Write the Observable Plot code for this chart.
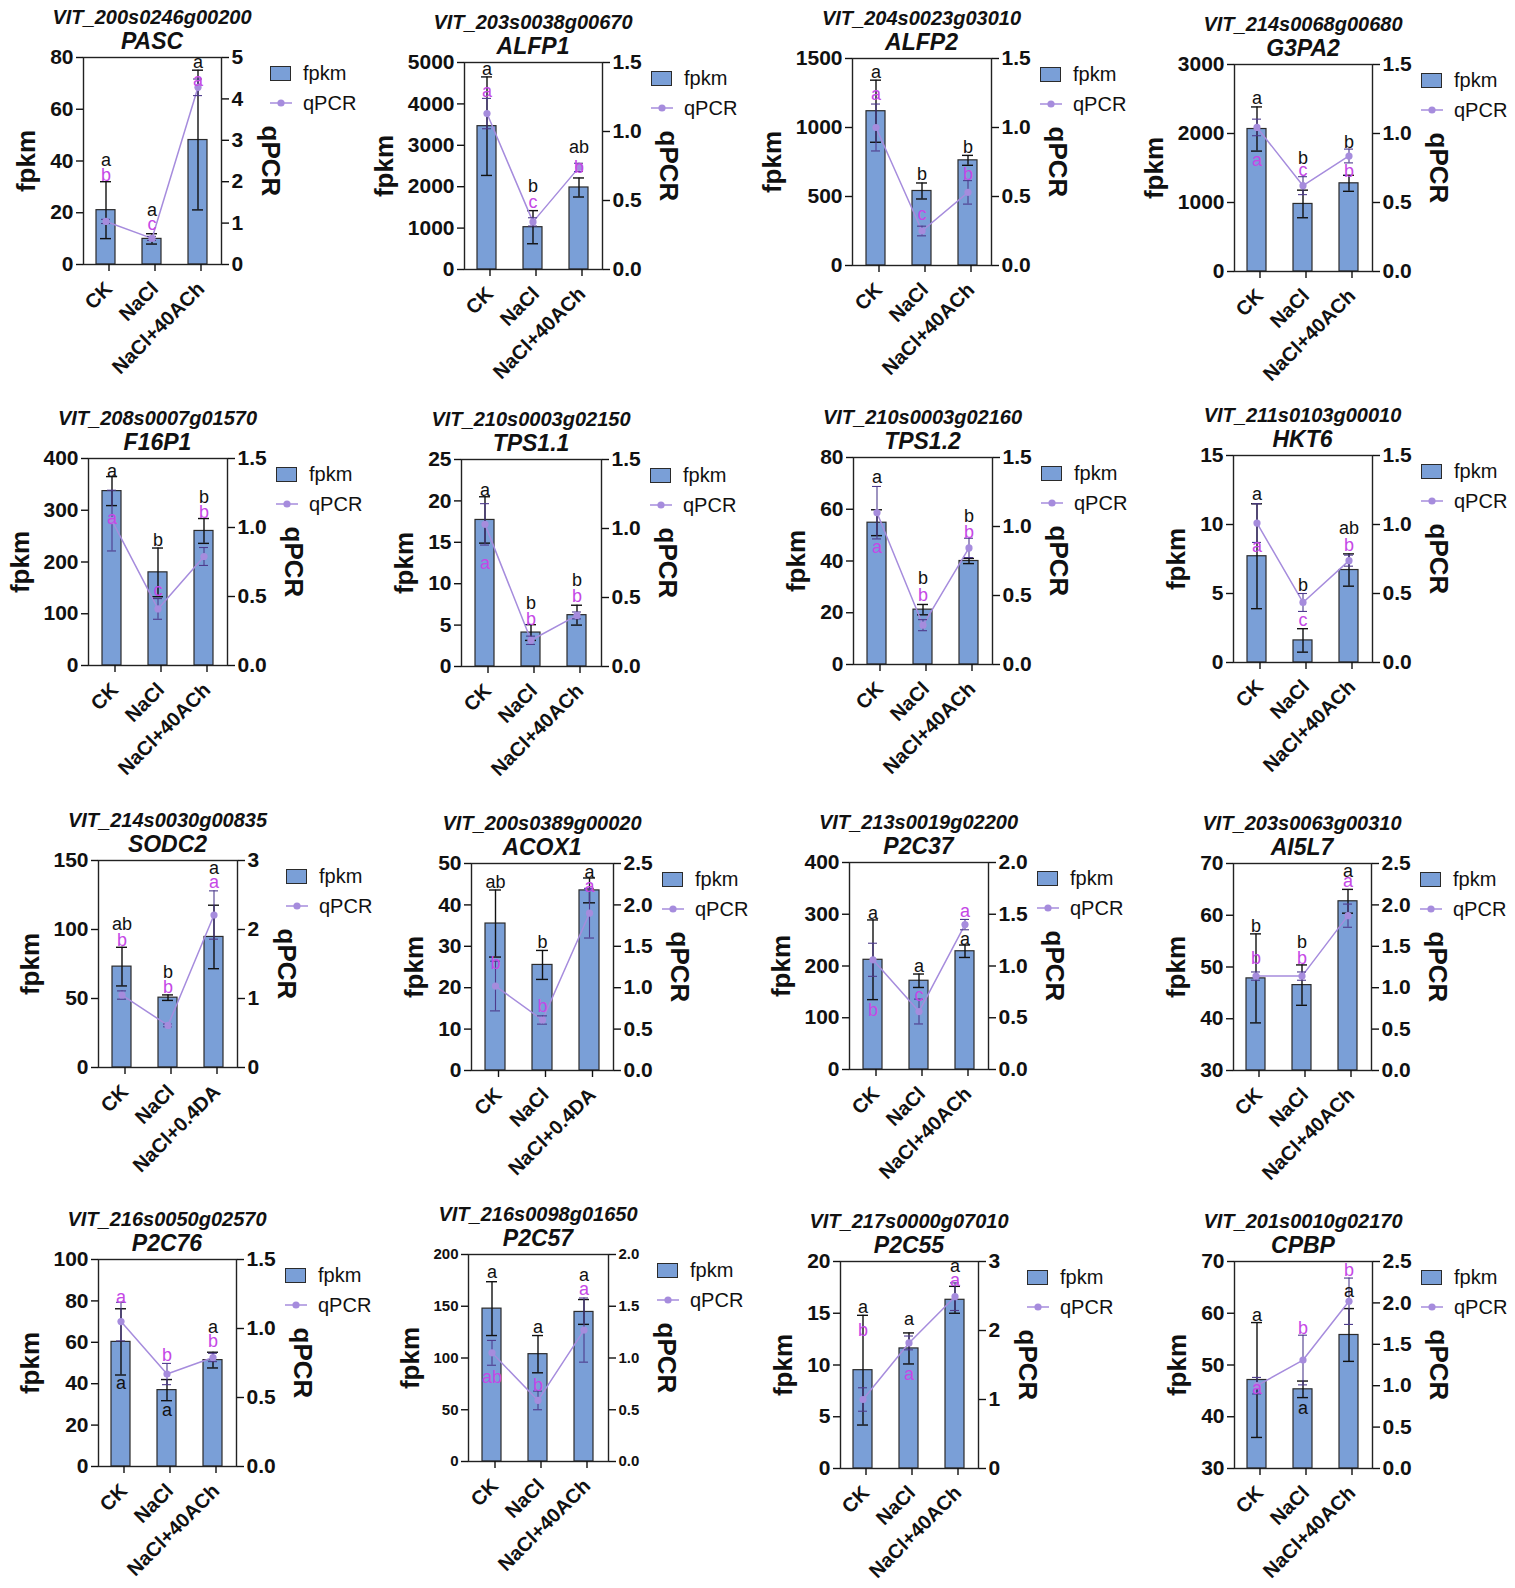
<!DOCTYPE html>
<html><head><meta charset="utf-8">
<script src="https://cdn.jsdelivr.net/npm/d3@7"></script>
<script src="https://cdn.jsdelivr.net/npm/@observablehq/plot@0.6"></script>
<style>
body{margin:0;background:#fff;overflow:hidden;}
#page{position:relative;width:1515px;height:1588px;font-family:"Liberation Sans",Arial,Helvetica,sans-serif;color:#111;}
.t1,.t2{position:absolute;font-weight:bold;font-style:italic;white-space:nowrap;transform:translate(-50%,-50%);line-height:1;}
.t1{font-size:20px}.t2{font-size:23px}
.lg{position:absolute;font-size:20px;line-height:1;white-space:nowrap;}
</style></head><body><div id="page"></div><script>
// ---------- data ----------
const genes = ["VIT_200s0246g00200","VIT_203s0038g00670","VIT_204s0023g03010","VIT_214s0068g00680",
  "VIT_208s0007g01570","VIT_210s0003g02150","VIT_210s0003g02160","VIT_211s0103g00010",
  "VIT_214s0030g00835","VIT_200s0389g00020","VIT_213s0019g02200","VIT_203s0063g00310",
  "VIT_216s0050g02570","VIT_216s0098g01650","VIT_217s0000g07010","VIT_201s0010g02170"];
const names = ["PASC","ALFP1","ALFP2","G3PA2","F16P1","TPS1.1","TPS1.2","HKT6",
  "SODC2","ACOX1","P2C37","AI5L7","P2C76","P2C57","P2C55","CPBP"];
const treatACh = ["CK","NaCl","NaCl+40ACh"];
const treatDA = ["CK","NaCl","NaCl+0.4DA"];
const treatUsed = ["ACh","ACh","ACh","ACh","ACh","ACh","ACh","ACh","DA","DA","ACh","ACh","ACh","ACh","ACh","ACh"];

const fpkmMean = [[21.0,9.9,48.1],[3462,1022,1981],[1118,540,762],[2065,979,1278],
  [337,180,260],[17.7,4.1,6.2],[54.8,21.2,40.0],[7.7,1.6,6.7],
  [73.1,50.6,94.6],[35.5,25.5,43.5],[212,171.5,228.5],[47.8,46.5,62.7],
  [60.2,36.9,51.4],[147.7,103.7,144.5],[9.5,11.6,16.3],[47.1,45.3,55.8]];
const fpkmErr = [[11,2,27],[1190,400,230],[225,58,36],[320,200,116],
  [28,47,24],[2.8,0.95,1.2],[5,2,1],[3.8,0.85,1.17],
  [14,2,23],[8.1,3.5,3],[77,13,12],[8.6,3.9,2.3],
  [16,5.1,3.8],[26,18,12],[5.3,1.5,1.3],[11.1,1.6,5.1]];
const qpcrMean = [[1.04,0.63,4.28],[1.13,0.345,0.74],[1.0,0.25,0.53],[1.044,0.622,0.837],
  [1.05,0.41,0.79],[1.03,0.19,0.37],[1.10,0.285,0.845],[1.01,0.435,0.738],
  [1.05,0.61,2.21],[1.02,0.61,1.9],[1.06,0.56,1.40],[1.14,1.14,1.87],
  [1.05,0.67,0.79],[1.05,0.59,1.27],[1.0,1.82,2.49],[1.0,1.31,2.02]];
const qpcrErr = [[0.05,0.05,0.2],[0.11,0.03,0.03],[0.17,0.035,0.085],[0.06,0.065,0.05],
  [0.22,0.075,0.065],[0.15,0.03,0.025],[0.19,0.04,0.07],[0.14,0.065,0.04],
  [0.06,0.02,0.35],[0.3,0.05,0.3],[0.16,0.12,0.05],[0.05,0.05,0.14],
  [0.14,0.077,0.03],[0.12,0.09,0.31],[0.17,0.1,0.2],[0.1,0.3,0.28]];
const fpkmLetters = [["a","a","a"],["a","b","ab"],["a","b","b"],["a","b","b"],
  ["a","b","b"],["a","b","b"],["a","b","b"],["a","b","ab"],
  ["ab","b","a"],["ab","b","a"],["a","a","a"],["b","b","a"],
  ["a","a","a"],["a","a","a"],["a","a","a"],["a","a","a"]];
const fpkmLetterAt = [[40.4,20.8,78],[4839,2005,2947],[1403,658,859],[2508,1640,1867],
  [375,242,326],[21.3,7.7,10.4],[72.4,33.2,57.4],[12.2,5.6,9.7],
  [103.7,69,144.2],[45.4,30.9,47.8],[302.7,200.3,251.5],[57.9,54.8,68.6],
  [40.1,27,67.4],[183,130,179.8],[15.6,14.4,19.5],[59.7,41.6,64.3]];
const qpcrLetters = [["b","c","a"],["a","c","b"],["a","c","b"],["a","c","b"],
  ["a","c","b"],["a","b","b"],["a","b","b"],["a","c","b"],
  ["b","b","a"],["b","b","a"],["b","c","a"],["b","b","a"],
  ["a","b","b"],["ab","b","a"],["b","a","a"],["a","b","b"]];
const qpcrLetterAt = [[2.15,0.98,4.45],[1.295,0.485,0.74],[1.24,0.37,0.66],[0.808,0.735,0.723],
  [1.066,0.547,1.11],[0.746,0.343,0.506],[0.851,0.50,0.96],[0.84,0.307,0.847],
  [1.84,1.16,2.68],[1.30,0.775,2.23],[0.576,0.72,1.526],[1.35,1.36,2.28],
  [1.228,0.807,0.91],[0.815,0.74,1.66],[2.0,1.36,2.73],[0.966,1.70,2.39]];
const fpkmTicks = [[0,20,40,60,80],[0,1000,2000,3000,4000,5000],[0,500,1000,1500],[0,1000,2000,3000],
  [0,100,200,300,400],[0,5,10,15,20,25],[0,20,40,60,80],[0,5,10,15],
  [0,50,100,150],[0,10,20,30,40,50],[0,100,200,300,400],[30,40,50,60,70],
  [0,20,40,60,80,100],[0,50,100,150,200],[0,5,10,15,20],[30,40,50,60,70]];
const qpcrTicks = [[0,1,2,3,4,5],[0,0.5,1,1.5],[0,0.5,1,1.5],[0,0.5,1,1.5],
  [0,0.5,1,1.5],[0,0.5,1,1.5],[0,0.5,1,1.5],[0,0.5,1,1.5],
  [0,1,2,3],[0,0.5,1,1.5,2,2.5],[0,0.5,1,1.5,2],[0,0.5,1,1.5,2,2.5],
  [0,0.5,1,1.5],[0,0.5,1,1.5,2],[0,1,2,3],[0,0.5,1,1.5,2,2.5]];
const qpcrDecimals = [0,1,1,1, 1,1,1,1, 0,1,1,1, 1,1,0,1];

// ---------- layout / style (not data) ----------
const panelLeft = [83,464,852,1234, 88,461,853,1233, 98,471,849,1233, 98,468,840,1234];
const panelTop  = [57,62,58,64, 458,459,457,455, 860,863,862,863, 1259,1254,1261,1261];
const panelW    = [138,138,139,138, 139,140,139,139, 139,142,139,138, 138,140,138,138];
const tickFont  = [21,21,21,21, 21,21,21,21, 21,21,21,21, 21,15,21,21];
const FONT = '"Liberation Sans", Arial, Helvetica, sans-serif';
const BAR = "#7a9fd7", BARSTROKE = "#2b2b2b", QLINE = "#a68cdd", QERR = "#4e3b8c", MAG = "#c548e6";
const ML = 100, MR = 95, MT = 12, MB = 125, PH = 207;

const page = document.getElementById("page");
const ctx = document.createElement("canvas").getContext("2d");
function textW(s, fs){ ctx.font = `bold ${fs}px ${FONT}`; return ctx.measureText(s).width; }

genes.forEach((g, i) => {
  const treat = treatUsed[i] === "DA" ? treatDA : treatACh;
  const PW = panelW[i];
  const fT = fpkmTicks[i], qT = qpcrTicks[i];
  const fmin = fT[0], fmax = fT[fT.length - 1], qmax = qT[qT.length - 1];
  const toF = q => fmin + q * (fmax - fmin) / qmax;
  const toQ = f => (f - fmin) * qmax / (fmax - fmin);
  const rows = treat.map((t, j) => ({
    t, f: fpkmMean[i][j], fe: fpkmErr[i][j], q: qpcrMean[i][j], qe: qpcrErr[i][j],
    fl: fpkmLetters[i][j], fla: fpkmLetterAt[i][j], ql: qpcrLetters[i][j], qla: qpcrLetterAt[i][j]
  }));
  const fs = tickFont[i];
  const qLab = qT.map(v => v.toFixed(qpcrDecimals[i]));
  const leftW = d3.max(fT, v => textW(String(v), fs));
  const rightW = d3.max(qLab, s => textW(s, fs));
  const leftOff = 10 + leftW + 23;
  const rightOff = 10 + rightW + 27;

  const svg = Plot.plot({
    width: ML + PW + MR, height: MT + PH + MB,
    marginLeft: ML, marginRight: MR, marginTop: MT, marginBottom: MB,
    style: {background: "transparent", fontFamily: FONT, fontSize: fs + "px", fontWeight: "bold",
      color: "#111", overflow: "visible", maxWidth: "none", position: "absolute",
      left: (panelLeft[i] - ML) + "px", top: (panelTop[i] - MT) + "px"},
    x: {domain: treat, paddingInner: 0.58, paddingOuter: 0.29, label: null},
    y: {domain: [fmin, fmax], label: null},
    marks: [
      Plot.barY(rows, {x: "t", y1: () => fmin, y2: "f", fill: BAR, stroke: BARSTROKE, strokeWidth: 1.2}),
      Plot.ruleX(rows, {x: "t", y1: d => d.f - d.fe, y2: d => d.f + d.fe, stroke: "#111", strokeWidth: 1.4}),
      Plot.tickY(rows, {x: "t", y: d => d.f + d.fe, stroke: "#111", strokeWidth: 1.4, insetLeft: 4, insetRight: 4}),
      Plot.tickY(rows, {x: "t", y: d => d.f - d.fe, stroke: "#111", strokeWidth: 1.4, insetLeft: 4, insetRight: 4}),
      Plot.line(rows, {x: "t", y: d => toF(d.q), stroke: QLINE, strokeWidth: 1.5}),
      Plot.ruleX(rows, {x: "t", y1: d => toF(d.q - d.qe), y2: d => toF(d.q + d.qe), stroke: QERR, strokeWidth: 1.1}),
      Plot.tickY(rows, {x: "t", y: d => toF(d.q + d.qe), stroke: QERR, strokeWidth: 1.1, insetLeft: 5, insetRight: 5}),
      Plot.tickY(rows, {x: "t", y: d => toF(d.q - d.qe), stroke: QERR, strokeWidth: 1.1, insetLeft: 5, insetRight: 5}),
      Plot.dot(rows, {x: "t", y: d => toF(d.q), r: 3.6, fill: QLINE, stroke: "none"}),
      Plot.text(rows, {x: "t", y: "fla", text: "fl", fill: "#111", fontSize: 18, fontWeight: "normal"}),
      Plot.text(rows, {x: "t", y: d => toF(d.qla), text: "ql", fill: MAG, fontSize: 18, fontWeight: "normal"}),
      Plot.frame({stroke: "#222", strokeWidth: 1.4}),
      Plot.axisY(fT, {anchor: "left", tickSize: 7, tickPadding: 3, fontSize: fs, strokeWidth: 1.4, label: null,
        tickFormat: d => String(d)}),
      Plot.axisY(qT.map(toF), {anchor: "right", tickSize: 7, tickPadding: 3, fontSize: fs, strokeWidth: 1.4, label: null,
        tickFormat: d => toQ(d).toFixed(qpcrDecimals[i])}),
      Plot.axisX({tickRotate: -45, tickSize: 7, tickPadding: 14, dx: 3, fontSize: 20, strokeWidth: 1.4, label: null}),
      Plot.text(["fpkm"], {text: d => d, frameAnchor: "left", textAnchor: "middle", lineAnchor: "middle",
        dx: -leftOff, rotate: -90, fontSize: 26, fontWeight: "bold", fill: "#111"}),
      Plot.text(["qPCR"], {text: d => d, frameAnchor: "right", textAnchor: "middle", lineAnchor: "middle",
        dx: rightOff, rotate: 90, fontSize: 26, fontWeight: "bold", fill: "#111"})
    ]
  });
  page.appendChild(svg);

  const cx = panelLeft[i] + PW / 2;
  const t1 = document.createElement("div");
  t1.className = "t1"; t1.textContent = g;
  t1.style.left = cx + "px"; t1.style.top = (panelTop[i] - 40) + "px";
  const t2 = document.createElement("div");
  t2.className = "t2"; t2.textContent = names[i];
  t2.style.left = cx + "px"; t2.style.top = (panelTop[i] - 16) + "px";
  page.appendChild(t1); page.appendChild(t2);

  const lg = document.createElement("div");
  lg.className = "lg";
  lg.style.left = (panelLeft[i] + PW + 49) + "px";
  lg.style.top = (panelTop[i] + 16) + "px";
  lg.innerHTML =
    `<div style="position:absolute;left:0;top:-7px;width:21px;height:15px;background:${BAR};border:1.3px solid ${BARSTROKE};box-sizing:border-box"></div>` +
    `<div style="position:absolute;left:33px;top:0;transform:translateY(-50%)">fpkm</div>` +
    `<svg style="position:absolute;left:0;top:23px;overflow:visible" width="22" height="14"><line x1="0" y1="7" x2="22" y2="7" stroke="${QLINE}" stroke-width="1.5"/><circle cx="11" cy="7" r="3.6" fill="${QLINE}"/></svg>` +
    `<div style="position:absolute;left:33px;top:30px;transform:translateY(-50%)">qPCR</div>`;
  page.appendChild(lg);
});
</script></body></html>
